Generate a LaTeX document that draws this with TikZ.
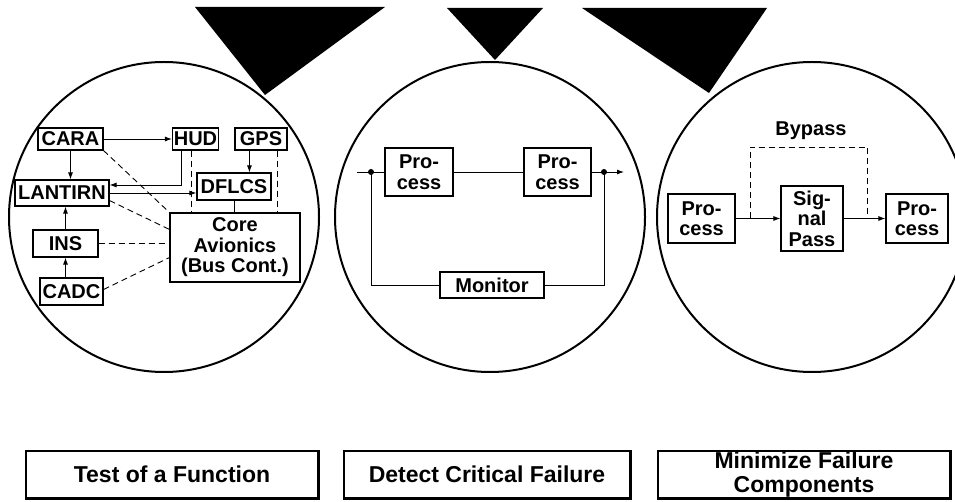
\documentclass[tikz,border=0pt]{standalone}
\usepackage{fontspec}
\setmainfont{Liberation Sans}
\usetikzlibrary{arrows.meta,calc}
\begin{document}
\begin{tikzpicture}[x=1pt,y=-1pt,
  lab/.style={font=\fontsize{20}{20.5}\selectfont\bfseries},
  box/.style={draw,line width=1.1pt,inner sep=0pt,align=center,lab},
  circ/.style={line width=2pt},
  wire/.style={line width=0.9pt},
  arr/.style={wire,-{Latex[length=7pt,width=5pt]}},
  dsh/.style={wire,dash pattern=on 6pt off 4pt},
  capbox/.style={draw,line width=1.1pt,inner sep=0pt,align=center,minimum height=47pt,
    font=\fontsize{23}{24}\selectfont\bfseries},
  dot/.style={circle,fill,inner sep=0pt,minimum size=6pt}
]
\useasboundingbox (0,0) rectangle (955,502);

% black wedges above the lenses
\fill (195,7) -- (385,7) -- (265,95) -- cycle;
\fill (447,8) -- (543,8) -- (495,60) -- cycle;
\fill (582,8) -- (767,8) -- (709,93) -- cycle;

% the three lenses
\draw[circ] (164,217) circle[radius=155];
\draw[circ] (490,217) circle[radius=155];
\draw[circ] (812,217) circle[radius=155];

% ---- left lens: avionics functions
\node[box,minimum width=65pt,minimum height=22pt] (cara) at (70.5,139) {CARA};
\node[box,minimum width=46pt,minimum height=22pt] (hud) at (195.5,139) {HUD};
\node[box,minimum width=52pt,minimum height=22pt] (gps) at (261,139) {GPS};
\node[box,minimum width=74pt,minimum height=27pt] (dflcs) at (234,186.5) {DFLCS};
\node[box,minimum width=94pt,minimum height=26pt] (lantirn) at (62,193) {LANTIRN};
\node[box,minimum width=65pt,minimum height=27pt] (ins) at (65.5,243.5) {INS};
\node[box,minimum width=63pt,minimum height=27pt] (cadc) at (71.5,291.5) {CADC};
\node[box,minimum width=130pt,minimum height=69pt] (core) at (235,247.5)
  {Core\\Avionics\\(Bus Cont.)};

\draw[arr] (cara.east) -- (hud.west);
\draw[arr] (cara.south) -- (cara.south |- lantirn.north);
\draw[arr] ([xshift=9pt]hud.south west) |- ([yshift=8pt]lantirn.east);
\draw[arr] (lantirn.east) -- (lantirn.east -| dflcs.west);
\coordinate (g1) at ([xshift=15pt]gps.south west);
\draw[arr] (g1) -- (g1 |- dflcs.north);
\draw[arr] (ins.north) -- (ins.north |- lantirn.south);
\draw[arr] (cadc.north -| ins.north) -- (ins.south);
\draw[wire] (dflcs.south) -- (dflcs.south |- core.north);

\draw[dsh] (cara.south east) -- (core.north west);
\draw[dsh] ([yshift=6pt]lantirn.south east) -- ([yshift=-17pt]core.north west);
\draw[dsh] (ins.east) -- (ins.east -| core.west);
\draw[dsh] ([yshift=2pt]cadc.east) -- ([yshift=25pt]core.south west);
\coordinate (h2) at ([xshift=19pt]hud.south west);
\draw[dsh] (h2) -- (h2 |- core.north);
\coordinate (g2) at ([xshift=43pt]gps.south west);
\draw[dsh] (g2) -- (g2 |- core.north);

% ---- middle lens: monitored chain
\node[box,minimum width=68pt,minimum height=48pt] (p1) at (419,172) {Pro-\\cess};
\node[box,minimum width=67pt,minimum height=48pt] (p2) at (557.5,172) {Pro-\\cess};
\node[box,minimum width=104pt,minimum height=26pt] (mon) at (492,285) {Monitor};
\coordinate (in) at (357,172);
\coordinate (out) at (624,172);
\node[dot] (d1) at (371,172) {};
\node[dot] (d2) at (604,172) {};
\draw[wire] (in) -- (p1.west);
\draw[wire] (p1.east) -- (p2.west);
\draw[arr] (p2.east) -- (out);
\draw[wire] (d1.center) |- (mon.west);
\draw[wire] (d2.center) |- (mon.east);

% ---- right lens: bypassed signal pass
\node[box,minimum width=67pt,minimum height=49pt] (pl) at (701.5,218.5) {Pro-\\cess};
\node[box,minimum width=62pt,minimum height=65pt] (sp) at (812,218.5) {Sig-\\nal\\Pass};
\node[box,minimum width=62pt,minimum height=49pt] (pr) at (917,218.5) {Pro-\\cess};
\node[lab] (bylab) at (811,131) {Bypass};
\draw[arr] (pl.east) -- (sp.west);
\draw[arr] (sp.east) -- (pr.west);
\coordinate (b1) at (750,218.5);
\coordinate (b2) at (867,218.5);
\draw[dsh] (b1) -- (750,147) -- (867,147) -- (b2);

% ---- captions
\node[capbox,minimum width=292pt] (c1) at (172,474.5) {Test of a Function};
\node[capbox,minimum width=286pt] (c2) at (487,474.5) {Detect Critical Failure};
\node[capbox,minimum width=292pt] (c3) at (804,474.5) {Minimize Failure\\Components};
\foreach \n in {c1,c2,c3}
  \draw[line width=2.2pt] (\n.north east) -- (\n.south east) -- (\n.south west);
\end{tikzpicture}
\end{document}
